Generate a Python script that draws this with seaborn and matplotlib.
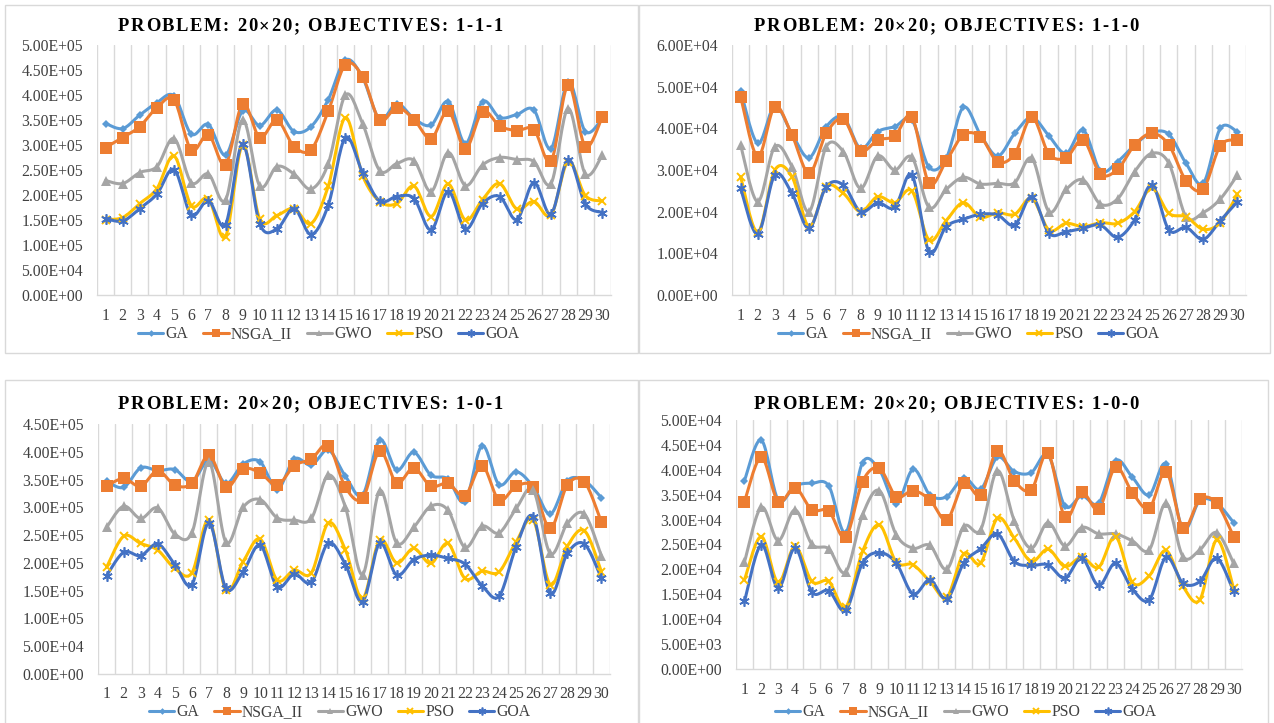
import numpy as np
import pandas as pd
import matplotlib
matplotlib.use("Agg")
import matplotlib.pyplot as plt
import seaborn as sns
from matplotlib.lines import Line2D
from matplotlib.patches import Rectangle
from matplotlib.font_manager import FontProperties
from matplotlib.textpath import TextToPath
from matplotlib.ticker import FuncFormatter, MultipleLocator

# ---------------------------------------------------------------- data
runs = list(range(1, 31))
algorithms = ["GA", "NSGA_II", "GWO", "PSO", "GOA"]

# Objectives 1-1-1
ga_111 = [343e3, 333e3, 360e3, 385e3, 398e3, 322e3, 341e3, 280e3, 368e3, 339e3,
          370e3, 327e3, 337e3, 391e3, 470e3, 435e3, 351e3, 383e3, 353e3, 340e3,
          387e3, 303e3, 387e3, 355e3, 361e3, 370e3, 293e3, 427e3, 327e3, 353e3]
nsga_111 = [295e3, 315e3, 337e3, 375e3, 390e3, 290e3, 321e3, 261e3, 382e3, 315e3,
            350e3, 297e3, 291e3, 368e3, 461e3, 437e3, 350e3, 375e3, 351e3, 313e3,
            368e3, 293e3, 367e3, 338e3, 329e3, 331e3, 268e3, 420e3, 297e3, 357e3]
gwo_111 = [229e3, 223e3, 245e3, 257e3, 313e3, 225e3, 242e3, 190e3, 350e3, 218e3,
           257e3, 242e3, 212e3, 263e3, 400e3, 343e3, 249e3, 263e3, 269e3, 207e3,
           285e3, 219e3, 260e3, 275e3, 271e3, 267e3, 223e3, 373e3, 242e3, 280e3]
pso_111 = [151e3, 155e3, 183e3, 213e3, 278e3, 179e3, 193e3, 117e3, 300e3, 152e3,
           159e3, 173e3, 143e3, 218e3, 355e3, 239e3, 187e3, 183e3, 218e3, 157e3,
           222e3, 150e3, 191e3, 223e3, 172e3, 187e3, 160e3, 267e3, 199e3, 188e3]
goa_111 = [153e3, 148e3, 173e3, 202e3, 251e3, 160e3, 189e3, 141e3, 302e3, 142e3,
           132e3, 173e3, 121e3, 180e3, 315e3, 245e3, 188e3, 197e3, 193e3, 130e3,
           207e3, 132e3, 183e3, 197e3, 151e3, 225e3, 162e3, 271e3, 182e3, 165e3]

# Objectives 1-1-0
ga_110 = [49040, 36400, 45360, 38640, 32960, 40400, 42640, 35200, 39200, 40400,
          42000, 30640, 32800, 45040, 38500, 33360, 38800, 42640, 38160, 34000,
          39600, 29840, 32000, 36000, 38960, 38560, 31600, 26800, 40000, 39200]
nsga_110 = [47600, 33200, 45200, 38400, 29200, 38800, 42160, 34640, 37200, 38160,
            42800, 26800, 32160, 38400, 38000, 32000, 33840, 42640, 33840, 32960,
            37200, 29040, 30160, 36000, 38800, 36000, 27440, 25440, 35840, 37200]
gwo_110 = [36000, 22400, 35600, 30800, 20000, 35600, 34400, 25600, 33360, 30000,
           33040, 21040, 25360, 28240, 26640, 26800, 26960, 32800, 20000, 25360,
           27600, 21840, 23040, 29600, 34000, 31600, 18800, 19760, 23040, 28800]
pso_110 = [28400, 15040, 30000, 28400, 16400, 26000, 24400, 20000, 23600, 22160,
           24960, 13200, 17840, 22160, 18640, 19760, 19360, 23200, 15600, 17200,
           16400, 17360, 17200, 20000, 25600, 19600, 18800, 15760, 17360, 24160]
goa_110 = [25600, 14640, 28800, 24400, 16000, 26000, 26400, 20000, 22160, 21040,
           28800, 10400, 16400, 18160, 19360, 19200, 16800, 23600, 14800, 15200,
           16000, 16800, 13840, 18000, 26400, 15600, 16240, 13360, 17840, 22400]

# Objectives 1-0-1
ga_101 = [347e3, 336e3, 371e3, 366e3, 368e3, 346e3, 385e3, 343e3, 378e3, 382e3,
          332e3, 387e3, 376e3, 403e3, 356e3, 322e3, 421e3, 367e3, 399e3, 358e3,
          351e3, 310e3, 411e3, 341e3, 364e3, 337e3, 288e3, 348e3, 348e3, 317e3]
nsga_101 = [338e3, 352e3, 338e3, 366e3, 340e3, 343e3, 394e3, 336e3, 369e3, 362e3,
            340e3, 375e3, 387e3, 411e3, 336e3, 316e3, 401e3, 344e3, 371e3, 338e3,
            343e3, 321e3, 375e3, 313e3, 338e3, 336e3, 262e3, 340e3, 346e3, 273e3]
gwo_101 = [264e3, 302e3, 280e3, 299e3, 252e3, 254e3, 382e3, 237e3, 300e3, 314e3,
           281e3, 277e3, 280e3, 358e3, 300e3, 179e3, 330e3, 236e3, 264e3, 302e3,
           295e3, 228e3, 266e3, 254e3, 298e3, 331e3, 217e3, 271e3, 288e3, 212e3]
pso_101 = [192e3, 248e3, 235e3, 223e3, 190e3, 182e3, 278e3, 151e3, 202e3, 243e3,
           169e3, 187e3, 182e3, 272e3, 223e3, 136e3, 241e3, 200e3, 226e3, 199e3,
           235e3, 172e3, 185e3, 184e3, 238e3, 277e3, 161e3, 230e3, 258e3, 184e3]
goa_101 = [177e3, 219e3, 213e3, 234e3, 197e3, 161e3, 272e3, 154e3, 184e3, 232e3,
           157e3, 180e3, 165e3, 236e3, 197e3, 130e3, 235e3, 178e3, 206e3, 214e3,
           208e3, 198e3, 159e3, 140e3, 229e3, 283e3, 145e3, 217e3, 234e3, 172e3]

# Objectives 1-0-0
ga_100 = [37830, 45990, 33960, 36760, 37300, 36760, 27400, 41440, 39970, 33150,
          40100, 34960, 34620, 38430, 36090, 42510, 39640, 39440, 42980, 32750,
          34760, 33290, 41840, 38500, 34960, 41170, 28070, 33820, 33290, 29410]
nsga_100 = [33620, 42510, 33620, 36430, 31950, 31750, 26470, 37630, 40300, 34620,
            35830, 33950, 29940, 37300, 34960, 43850, 37830, 35960, 43310, 30480,
            35490, 32080, 40500, 35430, 32280, 39640, 28270, 34090, 33290, 26600]
gwo_100 = [21460, 32480, 25800, 31950, 25070, 24130, 19450, 30950, 35830, 26940,
           24260, 24800, 20050, 28610, 27940, 39840, 29810, 24260, 29410, 24730,
           28410, 27140, 27140, 25730, 23930, 33290, 22590, 23930, 27400, 21260]
pso_100 = [17910, 26600, 17380, 24600, 17580, 17580, 12430, 23600, 28940, 21460,
           20920, 17580, 14440, 23130, 21260, 30280, 26270, 21590, 24060, 20590,
           22460, 20450, 26600, 17380, 18720, 23800, 16580, 13900, 25930, 16240]
goa_100 = [13570, 24930, 16240, 24260, 15440, 15710, 11760, 21260, 23390, 21260,
           15040, 17910, 14040, 21260, 24130, 27140, 21590, 20790, 20920, 18250,
           22260, 16780, 21260, 16040, 13900, 22460, 17250, 17580, 22260, 15570]

objectives = ["1-1-1", "1-1-0", "1-0-1", "1-0-0"]
y_max = [5e5, 6e4, 4.5e5, 5e4]
y_step = [5e4, 1e4, 5e4, 5e3]

series_by_panel = [
    [ga_111, nsga_111, gwo_111, pso_111, goa_111],
    [ga_110, nsga_110, gwo_110, pso_110, goa_110],
    [ga_101, nsga_101, gwo_101, pso_101, goa_101],
    [ga_100, nsga_100, gwo_100, pso_100, goa_100],
]

# ---------------------------------------------------------------- style
colors = {"GA": "#5B9BD5", "NSGA_II": "#ED7D31", "GWO": "#A5A5A5",
          "PSO": "#FFC000", "GOA": "#4472C4"}
markers = {"GA": dict(marker="D", ms=4.5, mew=0),
           "NSGA_II": dict(marker="s", ms=8, mew=0),
           "GWO": dict(marker="^", ms=6.5, mew=0),
           "PSO": dict(marker="x", ms=6, mew=1.4),
           "GOA": dict(marker=(6, 2, 0), ms=7.5, mew=1.2)}

sns.set_theme(style="white")
plt.rcParams["font.family"] = ["Liberation Serif", "DejaVu Serif"]
TXT = "#404040"
GRID = "#D9D9D9"
FS = 11.3

W, H = 1274, 723
fig = plt.figure(figsize=(W / 100, H / 100), dpi=100)


def px_axes(x0, y0, x1, y1):
    return fig.add_axes([x0 / W, 1 - y1 / H, (x1 - x0) / W, (y1 - y0) / H])


def smooth_curve(xv, yv, steps=16):
    """Cubic Bezier smoothing through every point (Catmull-Rom style)."""
    p = np.column_stack([xv, yv]).astype(float)
    ext = np.vstack([p[0], p, p[-1]])
    out = []
    t = np.linspace(0, 1, steps, endpoint=False)[:, None]
    for i in range(1, len(ext) - 2):
        p0, p1, p2, p3 = ext[i - 1], ext[i], ext[i + 1], ext[i + 2]
        c1 = p1 + (p2 - p0) / 6
        c2 = p2 - (p3 - p1) / 6
        seg = ((1 - t) ** 3) * p1 + 3 * ((1 - t) ** 2) * t * c1 \
            + 3 * (1 - t) * t ** 2 * c2 + t ** 3 * p2
        out.append(seg)
    out.append(p[-1][None, :])
    return np.vstack(out)


def spaced_title(cx, baseline, text, size=13.3, spacing=1.7):
    prop = FontProperties(family="Liberation Serif", weight="bold", size=size)
    ttp = TextToPath()
    scale = 100 / 72
    widths = []
    for ch in text:
        if ch == " ":
            widths.append(0.25 * size * scale)
        else:
            w, _, _ = ttp.get_text_width_height_descent(ch, prop, ismath=False)
            widths.append(w * scale)
    total = sum(widths) + spacing * (len(text) - 1)
    x = cx - total / 2
    for ch, w in zip(text, widths):
        if ch != " ":
            fig.text(x / W, 1 - baseline / H, ch, fontproperties=prop,
                     color="black", ha="left", va="baseline")
        x += w + spacing


# panel frames (pixel boxes), plot areas, title/legend positions
frames = [(5, 5, 638, 353), (639, 5, 1270, 353),
          (5, 380, 638, 740), (639, 380, 1268, 740)]
plot_areas = [(97, 45, 611, 295), (732, 45, 1246, 295),
              (98, 424, 610, 674), (736, 420, 1242, 669)]
title_pos = [(310, 31), (946, 31), (310, 409), (946, 409)]
legend_pos = [(329, 334), (969, 334), (340, 712), (966, 712)]

for (fx0, fy0, fx1, fy1) in frames:
    fig.patches.append(Rectangle((fx0 / W, 1 - fy1 / H), (fx1 - fx0) / W,
                                 (fy1 - fy0) / H, transform=fig.transFigure,
                                 fill=False, edgecolor=GRID, lw=1.0))

sci = FuncFormatter(lambda v, _: f"{v:.2E}")

for k in range(4):
    ax = px_axes(*plot_areas[k])
    rows = []
    for name, vals in zip(algorithms, series_by_panel[k]):
        curve = smooth_curve(runs, vals)
        rows.append(pd.DataFrame({"run": curve[:, 0], "value": curve[:, 1],
                                  "algorithm": name}))
    smooth = pd.concat(rows, ignore_index=True)
    sns.lineplot(data=smooth, x="run", y="value", hue="algorithm",
                 palette=colors, hue_order=algorithms, units="algorithm",
                 estimator=None, sort=False, lw=2.2, legend=False, ax=ax)
    for name, vals in zip(algorithms, series_by_panel[k]):
        ax.plot(runs, vals, ls="none", color=colors[name],
                mec=colors[name], mfc=colors[name], zorder=3, **markers[name])

    ax.set_xlim(0.5, 30.5)
    ax.set_ylim(0, y_max[k])
    ax.set_xlabel("")
    ax.set_ylabel("")
    ax.set_xticks(runs)
    ax.set_xticklabels([str(r) for r in runs])
    ax.xaxis.set_minor_locator(MultipleLocator(1, offset=0.5))
    ax.grid(False)
    ax.grid(which="minor", axis="x", color=GRID, lw=1.0)
    ax.yaxis.set_major_locator(MultipleLocator(y_step[k]))
    ax.yaxis.set_major_formatter(sci)
    ax.tick_params(axis="both", which="both", length=0, labelsize=FS,
                   labelcolor=TXT)
    ax.tick_params(axis="y", pad=10)
    ax.tick_params(axis="x", pad=9)
    for s in ["top", "right", "left"]:
        ax.spines[s].set_visible(False)
    ax.spines["bottom"].set_color(GRID)
    ax.spines["bottom"].set_linewidth(1.0)
    ax.set_facecolor("none")

    tx, ty = title_pos[k]
    spaced_title(tx, ty, f"PROBLEM: 20×20; OBJECTIVES: {objectives[k]}")

    handles = [Line2D([], [], color=colors[n], lw=2.2, mec=colors[n],
                      mfc=colors[n], **{**markers[n], "ms": markers[n]["ms"] * 0.75})
               for n in algorithms]
    lx, ly = legend_pos[k]
    fig.legend(handles, algorithms, loc="center", ncol=5,
               bbox_to_anchor=(lx / W, 1 - ly / H), frameon=False,
               fontsize=FS, handlelength=1.6, handletextpad=0.15,
               columnspacing=0.95, labelcolor=TXT, borderpad=0)

fig.savefig("out.png", dpi=100, facecolor="white")
